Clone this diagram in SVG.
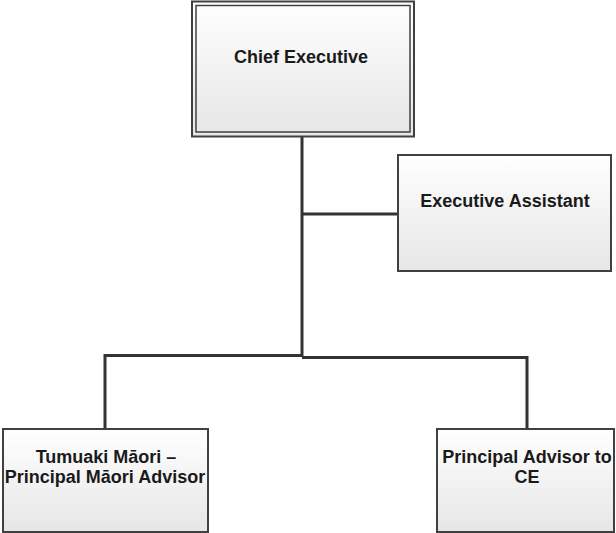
<svg xmlns="http://www.w3.org/2000/svg" width="616" height="533" viewBox="0 0 616 533">
<defs>
<linearGradient id="g" x1="0" y1="0" x2="0" y2="1">
<stop offset="0" stop-color="#ffffff"/>
<stop offset="1" stop-color="#e6e6e6"/>
</linearGradient>
</defs>
<style>
.box{fill:url(#g);stroke:#404040;stroke-width:2}
.inner{fill:none;stroke:#404040;stroke-width:1.5}
.t{font-family:"Liberation Sans",Arial,sans-serif;font-weight:bold;font-size:18px;fill:#1a1a1a;text-anchor:middle}
.c{fill:none;stroke:#333333;stroke-width:3;stroke-linejoin:miter}
</style>
<rect width="616" height="533" fill="#ffffff"/>
<g id="connectors">
<path class="c" d="M302 137 V357"/>
<path class="c" d="M302 214 H398"/>
<path class="c" d="M302 355.5 H105 V429"/>
<path class="c" d="M302 357.5 H527 V429"/>
</g>
<g id="chief-executive">
<rect class="box" x="192" y="1.5" width="222" height="135" stroke-width="3"/>
<rect class="inner" x="196" y="5.5" width="214" height="126.5"/>
<text class="t" x="301" y="63">Chief Executive</text>
</g>
<g id="executive-assistant">
<rect class="box" x="398" y="155" width="213" height="116"/>
<text class="t" x="505" y="207">Executive Assistant</text>
</g>
<g id="tumuaki-maori">
<rect class="box" x="3" y="429" width="205" height="103"/>
<text class="t" x="106" y="463">Tumuaki Māori –</text>
<text class="t" x="105" y="483">Principal Māori Advisor</text>
</g>
<g id="principal-advisor">
<rect class="box" x="437" y="429" width="177" height="103"/>
<text class="t" x="527" y="463">Principal Advisor to</text>
<text class="t" x="527" y="483">CE</text>
</g>
</svg>
